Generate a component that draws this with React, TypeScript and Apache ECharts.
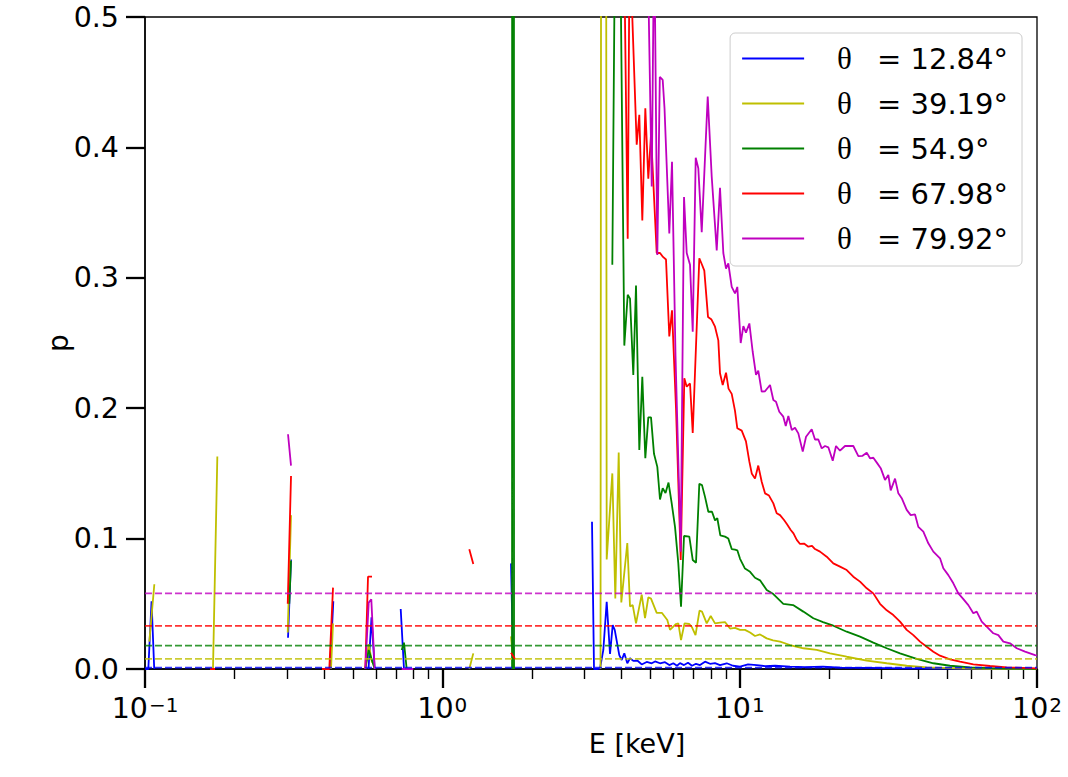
import React, { useEffect, useRef } from 'react';
import * as echarts from 'echarts';

type Pt = [number, number] | [string, string];
const G: Pt = ['-', '-'];

const angles = ['12.84', '39.19', '54.9', '67.98', '79.92'];
const colors = ['#0000ff', '#bfbf00', '#008000', '#ff0000', '#bf00bf'];
const mdpValues = [0.001, 0.0078, 0.0179, 0.0331, 0.058];
const xMajorTicks = [0.1, 1, 10, 100];
const xMinorTicks = [0.2, 0.3, 0.4, 0.5, 0.6, 0.7, 0.8, 0.9, 2, 3, 4, 5, 6, 7, 8, 9, 20, 30, 40, 50, 60, 70, 80, 90];
const yTicks = [0, 0.1, 0.2, 0.3, 0.4, 0.5];

const blue: Pt[] = [
  [0.1002, 0.0], [0.1026, 0.0], [0.1052, 0.052], [0.1074, 0.0], G,
  [0.3027, 0.024], [0.3098, 0.084], G,
  [0.419, 0.0], [0.4299, 0.052], G,
  [0.5646, 0.0], [0.5778, 0.0396], [0.5923, 0.0], G,
  [0.7244, 0.046], [0.7431, 0.0], G,
  [1.702, 0.081], [1.733, 0.0], G,
  [3.187, 0.113], [3.237, 0.0], [3.313, 0.0], [3.391, 0.0005], [3.479, 0.0146], [3.571, 0.0516], [3.664, 0.0115],
  [3.741, 0.0337], [3.8, 0.03], [3.937, 0.0107], [4.011, 0.0069], [4.093, 0.012], [4.189, 0.0044], [4.278, 0.0082],
  [4.388, 0.0062], [4.526, 0.0065], [4.683, 0.0035], [4.868, 0.0054], [5.061, 0.0044], [5.192, 0.0058], [5.396, 0.0044],
  [5.61, 0.0052], [5.799, 0.003], [5.982, 0.0044], [6.156, 0.0025], [6.3, 0.0045], [6.499, 0.003], [6.703, 0.0048],
  [6.914, 0.0025], [7.132, 0.004], [7.356, 0.003], [7.647, 0.0056], [7.948, 0.004], [8.262, 0.0045], [8.588, 0.003],
  [9.046, 0.0044], [9.498, 0.0025], [10.03, 0.0018], [10.67, 0.0035], [11.41, 0.003], [12.17, 0.0022], [13.15, 0.0025],
  [14.77, 0.0018], [16.59, 0.0015], [19.07, 0.0018], [21.75, 0.001], [27.44, 0.0008], [34.62, 0.0005], [50.99, 0.0003],
  [75.1, 0.0002], [100, 0.0001],
];

const yellow: Pt[] = [
  [0.1034, 0.021], [0.1075, 0.065], G,
  [0.1693, 0.0], [0.1751, 0.163], G,
  [0.302, 0.028], [0.3098, 0.118], G,
  [0.4223, 0.0], [0.4289, 0.035], G,
  [0.5507, 0.0], [0.5654, 0.019], [0.5801, 0.005], G,
  [1.232, 0.0], [1.271, 0.012], G,
  [1.702, 0.025], [1.742, 0.0], G,
  [3.404, 0.0], [3.484, 3.0], [3.571, 0.084], [3.73, 0.15], [3.817, 0.054], [3.919, 0.166], [3.999, 0.051],
  [4.189, 0.0966], [4.278, 0.048], [4.368, 0.049], [4.481, 0.035], [4.683, 0.057], [4.805, 0.039], [4.929, 0.055],
  [5.033, 0.054], [5.26, 0.043], [5.481, 0.043], [5.71, 0.0376], [5.831, 0.03], [5.982, 0.0325], [6.108, 0.0345],
  [6.218, 0.035], [6.35, 0.0222], [6.524, 0.035], [6.771, 0.0345], [6.914, 0.032], [7.104, 0.026], [7.328, 0.0447],
  [7.471, 0.044], [7.748, 0.035], [7.992, 0.0406], [8.262, 0.035], [8.588, 0.0355], [8.928, 0.036], [9.28, 0.031],
  [9.646, 0.0315], [10.03, 0.03], [10.42, 0.03], [10.84, 0.028], [11.26, 0.0253], [11.71, 0.0265], [12.33, 0.0235],
  [12.95, 0.022], [13.67, 0.021], [14.77, 0.0184], [16.37, 0.0159], [18.16, 0.0146], [20.13, 0.012], [22.91, 0.0094],
  [26.75, 0.0064], [31.23, 0.0044], [36.46, 0.0025], [42.57, 0.0013], [53.71, 0.0005], [69.51, 0.0002], [100, 0.0001],
];

const green: Pt[] = [
  [0.3057, 0.05], [0.3098, 0.083], G,
  [0.5507, 0.0], [0.5654, 0.0146], [0.5923, 0.0], G,
  [0.73, 0.0146], [0.7431, 0.0202], [0.7588, 0.0], G,
  [1.716, 0.0], [1.729, 8.0], [1.742, 0.0], G,
  [3.73, 0.31], [3.877, 0.78], [4.093, 0.248], [4.202, 0.287], [4.278, 0.284], [4.388, 0.2255], [4.481, 0.294],
  [4.597, 0.168], [4.705, 0.224], [4.816, 0.1616], [4.929, 0.193], [5.033, 0.193], [5.151, 0.165], [5.285, 0.155],
  [5.396, 0.13], [5.51, 0.1386], [5.631, 0.135], [5.764, 0.143], [5.908, 0.127], [6.061, 0.109], [6.218, 0.081],
  [6.35, 0.0478], [6.499, 0.102], [6.771, 0.1015], [6.952, 0.0836], [7.132, 0.0815], [7.316, 0.142], [7.471, 0.141],
  [7.647, 0.132], [7.845, 0.1206], [8.072, 0.1206], [8.262, 0.114], [8.411, 0.1156], [8.608, 0.1025], [8.928, 0.1015],
  [9.159, 0.1], [9.403, 0.092], [9.646, 0.0915], [9.82, 0.091], [10.03, 0.0845], [10.42, 0.077], [10.84, 0.0745],
  [11.26, 0.07], [11.71, 0.068], [12.33, 0.0606], [12.98, 0.0575], [14.02, 0.05], [15.12, 0.049], [16.37, 0.044],
  [17.69, 0.0389], [19.07, 0.036], [20.65, 0.0332], [22.91, 0.0286], [25.4, 0.0248], [28.15, 0.0202], [31.23, 0.0159],
  [34.62, 0.012], [39.4, 0.0077], [44.81, 0.0044], [50.99, 0.0025], [59.53, 0.0013], [69.51, 0.0006], [81.15, 0.0003],
  [100, 0.0001],
];

const red: Pt[] = [
  [0.1654, 0.0], [0.172, 0.0], G,
  [0.302, 0.05], [0.3098, 0.148], G,
  [0.3938, 0.0], [0.4167, 0.0], [0.4289, 0.0624], G,
  [0.5507, 0.0], [0.5624, 0.0708], [0.5801, 0.0708], G,
  [0.7431, 0.0], [0.7785, 0.0], G,
  [1.232, 0.0918], [1.271, 0.0805], G,
  [1.702, 0.0125], [1.756, 0.0077], G,
  [4.083, 0.56], [4.202, 0.33], [4.264, 0.56], [4.505, 0.402], [4.597, 0.425], [4.705, 0.344], [4.816, 0.43],
  [4.929, 0.376], [5.033, 0.41], [5.132, 0.37], [5.26, 0.319], [5.396, 0.319], [5.523, 0.316], [5.653, 0.314],
  [5.799, 0.255], [5.922, 0.275], [6.108, 0.2], [6.335, 0.0836], [6.514, 0.223], [6.636, 0.2165], [6.808, 0.219],
  [6.952, 0.181], [7.316, 0.315], [7.471, 0.31], [7.605, 0.3055], [7.826, 0.27], [8.041, 0.268], [8.262, 0.2625],
  [8.476, 0.252], [8.588, 0.2268], [8.77, 0.2178], [8.997, 0.2272], [9.173, 0.215], [9.403, 0.211], [9.646, 0.198],
  [9.82, 0.1846], [10.16, 0.1828], [10.5, 0.1745], [10.78, 0.159], [10.98, 0.15], [11.26, 0.146], [11.55, 0.156],
  [11.86, 0.1436], [12.17, 0.1347], [12.55, 0.133], [12.98, 0.127], [13.32, 0.1194], [13.67, 0.118], [14.1, 0.1143],
  [14.43, 0.111], [14.85, 0.1066], [15.17, 0.104], [15.56, 0.099], [15.96, 0.0959], [16.46, 0.0962], [17.02, 0.0938],
  [17.51, 0.0945], [17.92, 0.092], [18.63, 0.09], [19.62, 0.0861], [20.65, 0.081], [21.75, 0.0785], [22.91, 0.0759],
  [24.11, 0.0708], [25.4, 0.067], [26.75, 0.0619], [28.15, 0.058], [29.65, 0.05], [31.23, 0.045], [32.87, 0.0414],
  [34.62, 0.0363], [36.46, 0.03], [38.38, 0.026], [40.42, 0.021], [42.57, 0.0171], [44.81, 0.0133], [47.19, 0.0102],
  [50.99, 0.0074], [55.1, 0.0056], [61.07, 0.0036], [69.51, 0.0023], [79.1, 0.0013], [100, 0.0005],
];

const magenta: Pt[] = [
  [0.3027, 0.18], [0.3098, 0.156], G,
  [0.5507, 0.0], [0.5654, 0.0509], [0.5769, 0.0534], [0.5923, 0.0], G,
  [0.73, 0.0], [0.7986, 0.0], G,
  [4.88, 0.58], [5.061, 0.37], [5.159, 0.57], [5.285, 0.3175], [5.388, 0.454], [5.51, 0.4517], [5.588, 0.43],
  [5.799, 0.334], [5.922, 0.389], [6.085, 0.24], [6.335, 0.09], [6.499, 0.362], [6.636, 0.319], [6.808, 0.31],
  [6.952, 0.2587], [7.115, 0.392], [7.26, 0.384], [7.454, 0.335], [7.808, 0.439], [8.054, 0.3775], [8.372, 0.321],
  [8.588, 0.369], [8.811, 0.319], [8.997, 0.307], [9.159, 0.311], [9.403, 0.293], [9.646, 0.288], [9.82, 0.293],
  [10.08, 0.25], [10.29, 0.263], [10.5, 0.258], [10.78, 0.265], [11.06, 0.2433], [11.35, 0.2255], [11.55, 0.2288],
  [11.86, 0.2127], [12.17, 0.213], [12.65, 0.2178], [12.98, 0.2063], [13.25, 0.205], [13.59, 0.1973], [14.02, 0.1935],
  [14.29, 0.1864], [14.58, 0.194], [14.97, 0.1833], [15.35, 0.185], [15.75, 0.1807], [16.3, 0.1667], [16.72, 0.1781],
  [17.47, 0.1838], [17.92, 0.176], [18.39, 0.176], [18.88, 0.1692], [19.37, 0.171], [19.87, 0.17], [20.56, 0.1597],
  [21.09, 0.171], [21.75, 0.1674], [22.61, 0.171], [24.11, 0.171], [25.07, 0.1633], [25.9, 0.1635], [26.75, 0.1659],
  [27.44, 0.1616], [28.15, 0.162], [29.04, 0.1577], [29.81, 0.154], [30.82, 0.145], [31.62, 0.1488], [32.21, 0.137],
  [33.31, 0.146], [34.17, 0.1347], [35.08, 0.131], [36.46, 0.122], [37.61, 0.118], [38.89, 0.1185], [39.89, 0.109],
  [41.47, 0.1053], [43.1, 0.0964], [44.81, 0.09], [47.19, 0.0849], [48.41, 0.0772], [50.33, 0.072], [52.31, 0.0657],
  [54.38, 0.058], [56.26, 0.0542], [58.76, 0.049], [61.07, 0.0427], [62.7, 0.044], [65.18, 0.0363], [67.75, 0.0325],
  [71.31, 0.0274], [74.12, 0.026], [77.05, 0.021], [81.15, 0.0197], [85.47, 0.0159], [91.15, 0.0133], [98.49, 0.0107],
  [100, 0.0105],
];

const seriesData = [blue, yellow, green, red, magenta];
const FONT = 'DejaVu Sans';

export default function App() {
  const ref = useRef<HTMLDivElement>(null);
  useEffect(() => {
    if (!ref.current) return;
    const chart = echarts.init(ref.current, null, { renderer: 'svg' });
    const names = angles.map((a) => `θ = ${a}°`);
    const solid = seriesData.map((d, i) => ({
      name: names[i],
      type: 'line',
      data: d,
      xAxisIndex: 0,
      yAxisIndex: 0,
      showSymbol: false,
      symbol: 'none',
      connectNulls: false,
      clip: true,
      color: colors[i],
      lineStyle: { color: colors[i], width: 1.8 },
      itemStyle: { color: colors[i] },
      z: 3,
    }));
    const dashed = mdpValues.map((v, i) => ({
      name: `mdp${i}`,
      type: 'line',
      data: [[0.1, v], [100, v]],
      showSymbol: false,
      symbol: 'none',
      silent: true,
      lineStyle: { color: colors[i], width: 1.8, type: [7, 3], opacity: 0.8 },
      z: 4,
    }));
    chart.setOption({
      animation: false,
      backgroundColor: '#ffffff',
      grid: {
        left: 145, right: 31, top: 17, bottom: 108,
        show: true, borderColor: '#000', borderWidth: 1.3, backgroundColor: 'transparent',
        containLabel: false, outerBoundsMode: 'none',
      },
      legend: {
        data: names,
        orient: 'vertical',
        right: 46,
        top: 33,
        padding: [10, 14, 12, 12],
        itemGap: 14,
        itemWidth: 62,
        itemHeight: 2,
        icon: 'rect',
        selectedMode: false,
        backgroundColor: 'rgba(255,255,255,0.8)',
        borderColor: '#cccccc',
        borderWidth: 1,
        borderRadius: 5,
        formatter: (name: string) => `{t|θ}{v|= ${name.split('= ')[1]}}`,
        textStyle: {
          color: '#000', fontFamily: FONT, fontSize: 29, lineHeight: 30,
          rich: {
            t: { fontFamily: 'Liberation Serif', fontSize: 31, lineHeight: 30, color: '#000', padding: [0, 25, 0, 28] },
            v: { fontFamily: FONT, fontSize: 29, lineHeight: 30, color: '#000' },
          },
        },
      },
      xAxis: [
        {
          type: 'log', logBase: 10, min: 0.1, max: 100, position: 'bottom',
          axisLine: { show: true, lineStyle: { color: '#000', width: 1.5 } },
          axisTick: { show: true, inside: false, length: 19, customValues: xMajorTicks, lineStyle: { color: '#000', width: 2.3 } },
          axisLabel: {
            show: true, margin: 22, customValues: xMajorTicks, showMinLabel: true, showMaxLabel: true,
            formatter: (v: number) => {
              const e = Math.round(Math.log10(v));
              return `{b|10}{s|${e < 0 ? '−' + -e : e}}`;
            },
            rich: {
              b: { fontFamily: FONT, fontSize: 28.5, lineHeight: 34, color: '#000' },
              s: { fontFamily: FONT, fontSize: 20, lineHeight: 20, color: '#000', verticalAlign: 'top', padding: [4, 0, 0, 1] },
            },
          },
          splitLine: { show: false },
          minorTick: { show: false },
        },
        {
          type: 'log', logBase: 10, min: 0.1, max: 100, position: 'bottom', gridIndex: 0,
          axisLine: { show: false },
          axisTick: { show: true, inside: false, length: 10, customValues: xMinorTicks, lineStyle: { color: '#000', width: 1.4 } },
          axisLabel: { show: false },
          splitLine: { show: false },
        },
      ],
      yAxis: {
        type: 'value', min: 0, max: 0.5, interval: 0.1,
        axisLine: { show: true, lineStyle: { color: '#000', width: 1.5 } },
        axisTick: { show: true, inside: false, length: 19, customValues: yTicks, lineStyle: { color: '#000', width: 2.3 } },
        axisLabel: {
          show: true, margin: 26, color: '#000', fontFamily: FONT, fontSize: 28.5,
          showMinLabel: true, showMaxLabel: true,
          formatter: (v: number) => v.toFixed(1),
        },
        splitLine: { show: false },
      },
      graphic: [
        {
          type: 'text', x: 637, y: 743,
          style: { text: 'E [keV]', fontFamily: FONT, fontSize: 27, fill: '#000', align: 'center', verticalAlign: 'middle' },
        },
        {
          type: 'text', x: 58, y: 343, rotation: Math.PI / 2,
          style: { text: 'p', fontFamily: FONT, fontSize: 28, fill: '#000', align: 'center', verticalAlign: 'middle' },
        },
      ],
      series: [...solid, ...dashed],
    });
    return () => chart.dispose();
  }, []);
  return <div ref={ref} style={{ position: 'absolute', left: 0, top: 0, width: 1068, height: 777 }} />;
}
